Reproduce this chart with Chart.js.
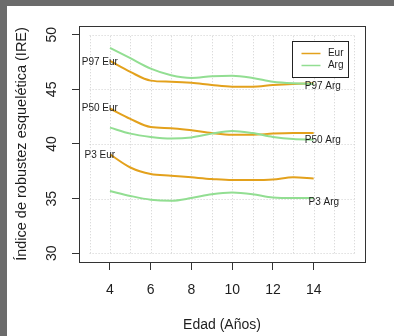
<!DOCTYPE html>
<html>
<head>
<meta charset="utf-8">
<script src="https://cdn.jsdelivr.net/npm/chart.js@4"></script>
<style>
html,body{margin:0;padding:0;background:#6b6b6b;width:394px;height:336px;overflow:hidden;}
#wrap{position:absolute;left:7px;top:6px;width:387px;height:330px;background:#fff;}
canvas{display:block;}
</style>
</head>
<body>
<div id="wrap"><canvas id="c" width="387" height="330"></canvas></div>
<script>
// ---- data ----
const ages = [4, 5, 6, 7, 8, 9, 10, 11, 12, 13, 14];
const eurP97 = [47.6, 46.6, 45.8, 45.7, 45.6, 45.4, 45.25, 45.25, 45.4, 45.5, 45.55];
const argP97 = [48.8, 47.85, 46.9, 46.3, 46.05, 46.2, 46.25, 46.05, 45.7, 45.55, 45.5];
const eurP50 = [43.25, 42.3, 41.55, 41.45, 41.25, 41.0, 40.85, 40.85, 40.95, 41.0, 41.0];
const argP50 = [41.5, 40.95, 40.65, 40.5, 40.6, 40.95, 41.2, 41.0, 40.65, 40.45, 40.4];
const eurP3 = [39.05, 37.85, 37.25, 37.1, 36.95, 36.8, 36.7, 36.7, 36.75, 36.95, 36.85];
const argP3 = [35.7, 35.25, 34.9, 34.8, 35.05, 35.4, 35.55, 35.4, 35.1, 35.05, 35.05];
const seriesNames = ["Eur", "Arg"];
const xTicks = [4, 6, 8, 10, 12, 14];
const yTicks = [30, 35, 40, 45, 50];
const xGrid = [3, 4, 5, 6, 7, 8, 9, 10, 11, 12, 13, 14, 15, 16];
const curveLabelsEur = ["P97 Eur", "P50 Eur", "P3 Eur"];
const curveLabelsEurX = [3.5, 3.5, 3.5];
const curveLabelsEurY = [47.5, 43.3, 39.0];
const curveLabelsArg = ["P97 Arg", "P50 Arg", "P3 Arg"];
const curveLabelsArgX = [14.45, 14.45, 14.5];
const curveLabelsArgY = [45.3, 40.3, 34.7];
const xTitle = "Edad (Años)";
const yTitle = "Índice de robustez esquelética (IRE)";

const EUR = '#E3A11C';
const ARG = '#92DE92';
const FONT = "'Liberation Sans', Arial, sans-serif";

function pts(arr){ return ages.map((a,i)=>({x:a, y:arr[i]})); }
function ds(label, arr, color){
  return {label, data: pts(arr), borderColor: color, backgroundColor: color,
    borderWidth: 2, pointRadius: 0, cubicInterpolationMode: 'monotone', fill: false};
}

const extras = {
  id: 'extras',
  beforeDatasetsDraw(chart){
    const {ctx, scales:{x, y}} = chart;
    ctx.save();
    ctx.strokeStyle = '#cfcfcf';
    ctx.lineWidth = 1;
    ctx.setLineDash([1, 2]);
    const y0 = y.getPixelForValue(yTicks[0]), y1 = y.getPixelForValue(yTicks[yTicks.length-1]);
    const x0 = x.getPixelForValue(xGrid[0]), x1 = x.getPixelForValue(xGrid[xGrid.length-1]);
    xGrid.forEach(v=>{
      const px = Math.round(x.getPixelForValue(v)) + 0.5;
      ctx.beginPath(); ctx.moveTo(px, y0); ctx.lineTo(px, y1); ctx.stroke();
    });
    yTicks.forEach(v=>{
      const py = Math.round(y.getPixelForValue(v)) + 0.5;
      ctx.beginPath(); ctx.moveTo(x0, py); ctx.lineTo(x1, py); ctx.stroke();
    });
    ctx.restore();
  },
  afterDraw(chart){
    const {ctx, chartArea:a, scales:{x, y}} = chart;
    ctx.save();
    // box
    ctx.strokeStyle = '#333';
    ctx.lineWidth = 1;
    ctx.strokeRect(Math.round(a.left)+0.5, Math.round(a.top)+0.5, Math.round(a.right-a.left), Math.round(a.bottom-a.top));
    // curve labels
    ctx.fillStyle = '#1e1e1e';
    ctx.font = '10px ' + FONT;
    ctx.textAlign = 'center';
    ctx.textBaseline = 'middle';
    curveLabelsEur.forEach((t,i)=>ctx.fillText(t, x.getPixelForValue(curveLabelsEurX[i]), y.getPixelForValue(curveLabelsEurY[i])));
    curveLabelsArg.forEach((t,i)=>ctx.fillText(t, x.getPixelForValue(curveLabelsArgX[i]), y.getPixelForValue(curveLabelsArgY[i])));
    // y tick labels rotated
    ctx.font = '14px ' + FONT;
    yTicks.forEach(v=>{
      ctx.save();
      ctx.translate(45.5, y.getPixelForValue(v));
      ctx.rotate(-Math.PI/2);
      ctx.fillText(String(v), 0, 0);
      ctx.restore();
    });
    // axis titles
    ctx.fillText(xTitle, (a.left+a.right)/2, 319);
    ctx.save();
    ctx.translate(15, (a.top+a.bottom)/2);
    ctx.rotate(-Math.PI/2);
    ctx.font = '14.5px ' + FONT;
    ctx.fillText(yTitle, 0, 0);
    ctx.restore();
    // legend
    const lx = 285.5, ly = 35.5, lw = 56, lh = 36;
    ctx.fillStyle = '#fff';
    ctx.fillRect(lx, ly, lw, lh);
    ctx.strokeStyle = '#222';
    ctx.strokeRect(lx, ly, lw, lh);
    const cols = [EUR, ARG];
    ctx.font = '10px ' + FONT;
    ctx.textAlign = 'right';
    seriesNames.forEach((n,i)=>{
      const yy = ly + 12 + i*12;
      ctx.strokeStyle = cols[i];
      ctx.lineWidth = 1.5;
      ctx.beginPath(); ctx.moveTo(lx+9, yy); ctx.lineTo(lx+28, yy); ctx.stroke();
      ctx.fillStyle = '#1e1e1e';
      ctx.fillText(n, lx+51, yy);
    });
    ctx.restore();
  }
};

new Chart(document.getElementById('c'), {
  type: 'line',
  data: {
    datasets: [
      ds(seriesNames[1], argP97, ARG),
      ds(seriesNames[1], argP50, ARG),
      ds(seriesNames[1], argP3, ARG),
      ds(seriesNames[0], eurP97, EUR),
      ds(seriesNames[0], eurP50, EUR),
      ds(seriesNames[0], eurP3, EUR)
    ]
  },
  options: {
    responsive: false,
    animation: false,
    layout: {padding: {top: 20, right: 29, left: 0, bottom: 0}},
    plugins: {legend: {display: false}, tooltip: {enabled: false}},
    scales: {
      x: {
        type: 'linear', min: 2.48, max: 16.52,
        afterBuildTicks: s => { s.ticks = xTicks.map(v=>({value: v})); },
        afterFit: s => { s.height = 74; },
        grid: {display: true, drawOnChartArea: false, drawTicks: true, tickLength: 8, color: '#333', tickColor: '#333'},
        border: {display: true, color: '#333'},
        ticks: {font: {family: FONT, size: 14}, color: '#1e1e1e', padding: 12, maxRotation: 0, autoSkip: false}
      },
      y: {
        type: 'linear', min: 29.2, max: 50.8,
        afterBuildTicks: s => { s.ticks = yTicks.map(v=>({value: v})); },
        afterFit: s => { s.width = 72; },
        grid: {display: true, drawOnChartArea: false, drawTicks: true, tickLength: 7, color: '#333', tickColor: '#333'},
        border: {display: true, color: '#333'},
        ticks: {display: false}
      }
    }
  },
  plugins: [extras]
});
</script>
</body>
</html>
